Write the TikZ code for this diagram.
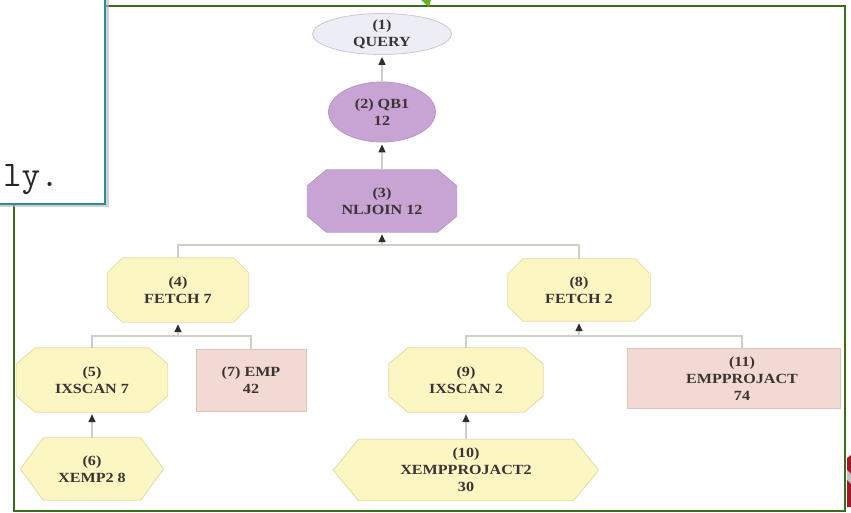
\documentclass[tikz,border=0pt]{standalone}
\usepackage{fontspec}
\usetikzlibrary{shapes.geometric,arrows.meta,calc,backgrounds}
\newfontfamily\lblfont[FakeStretch=1.15]{Liberation Serif}
\definecolor{txt}{HTML}{3B3333}
\definecolor{qfill}{HTML}{EDEDF6}
\definecolor{qborder}{HTML}{C9C9D6}
\definecolor{pfill}{HTML}{C8A4D4}
\definecolor{pborder}{HTML}{B996C4}
\definecolor{yfill}{HTML}{FBF6C2}
\definecolor{yborder}{HTML}{E2DBA6}
\definecolor{rfill}{HTML}{F3D9D3}
\definecolor{rborder}{HTML}{DEC5BE}
\definecolor{linec}{HTML}{CFCFC6}
\definecolor{tipc}{HTML}{2E2E2E}
\definecolor{framec}{HTML}{3D6B1C}
\definecolor{popc}{HTML}{2B8C9C}
\definecolor{greentri}{HTML}{6AB023}
\definecolor{redbit}{HTML}{A0182A}
\tikzset{
  lbl/.style={font=\lblfont\bfseries\fontsize{14}{17}\selectfont, text=txt, align=center, inner sep=0pt},
  qnode/.style={lbl, ellipse, draw=qborder, fill=qfill, line width=0.8pt},
  pnode/.style={lbl, ellipse, draw=pborder, fill=pfill, line width=0.8pt},
  shapebox/.style={lbl, rectangle, draw=none},
  rbox/.style={lbl, rectangle, draw=rborder, fill=rfill, line width=0.8pt},
  conn/.style={draw=linec, line width=1.5pt},
  arr/.style={conn, -{Triangle[width=7pt,length=8pt,color=tipc,fill=tipc]}, shorten >=2pt},
  yshape/.style={fill=yfill, draw=yborder, line width=0.8pt},
  pshape/.style={fill=pfill, draw=pborder, line width=0.8pt},
}
\newcommand\octpath[4]{\draw[#4] ($(#1.north west)+(#2,0)$) -- ($(#1.north east)+(-#2,0)$) -- ($(#1.north east)+(0,#3)$) -- ($(#1.south east)+(0,-#3)$) -- ($(#1.south east)+(-#2,0)$) -- ($(#1.south west)+(#2,0)$) -- ($(#1.south west)+(0,-#3)$) -- ($(#1.north west)+(0,#3)$) -- cycle;}
\newcommand\hexpath[3]{\draw[#3] (#1.west) -- ($(#1.north west)+(#2,0)$) -- ($(#1.north east)+(-#2,0)$) -- (#1.east) -- ($(#1.south east)+(-#2,0)$) -- ($(#1.south west)+(#2,0)$) -- cycle;}
\begin{document}
\begin{tikzpicture}[x=1pt,y=-1pt]
\useasboundingbox (0,0) rectangle (851,513);
\clip (0,0) rectangle (851,513);

% frame
\draw[framec, line width=2.2pt] (14,6) rectangle (845,511);
\fill[greentri] (421,0) -- (431,0) -- (429,7) -- cycle;
\fill[redbit] (847,458) -- (851,455) -- (851,507) -- (847,507) -- cycle;
\fill[black!25] (847,470) -- (851,474) -- (851,484) -- (847,480) -- cycle;

% popup
\fill[black!30, opacity=0.6] (-10,-10) rectangle (108.5,207.5);
\draw[fill=white, draw=popc, line width=1.5pt] (-10,-10) rectangle (105,204);
\node[font=\ttfamily\addfontfeatures{FakeStretch=1.15}\fontsize{36}{36}\selectfont, anchor=base east, text=black!85, inner sep=0pt] (ly) at (59,186) {ly.};

% nodes
\node[qnode, minimum width=139pt, minimum height=37pt] (n1) at (382,34) {(1)\\QUERY};
\node[pnode, minimum width=107pt, minimum height=60pt] (n2) at (382,112) {(2) QB1\\12};
\node[shapebox, minimum width=149pt, minimum height=62pt] (n3) at (382,201) {(3)\\NLJOIN 12};
\node[shapebox, minimum width=141pt, minimum height=64pt] (n4) at (178,290) {(4)\\FETCH 7};
\node[shapebox, minimum width=151pt, minimum height=64pt] (n5) at (92,380) {(5)\\IXSCAN 7};
\node[shapebox, minimum width=143pt, minimum height=62pt] (n6) at (92,469) {(6)\\XEMP2 8};
\node[rbox, minimum width=110pt, minimum height=62pt] (n7) at (251,380) {(7) EMP\\42};
\node[shapebox, minimum width=142pt, minimum height=62pt] (n8) at (579,290) {(8)\\FETCH 2};
\node[shapebox, minimum width=154pt, minimum height=64pt] (n9) at (466,380) {(9)\\IXSCAN 2};
\node[shapebox, minimum width=265pt, minimum height=61pt] (n10) at (466,470) {(10)\\XEMPPROJACT2\\30};
\node[rbox, minimum width=213pt, minimum height=60pt] (n11) at (733.5,378.5) {\hspace*{17pt}(11)\\\hspace*{17pt}EMPPROJACT\\\hspace*{17pt}74};

\begin{scope}[on background layer]
  \octpath{n3}{19}{16}{pshape}
  \octpath{n4}{15}{15}{yshape}
  \octpath{n5}{19}{16}{yshape}
  \octpath{n8}{15}{15}{yshape}
  \octpath{n9}{19}{16}{yshape}
  \hexpath{n6}{23}{yshape}
  \hexpath{n10}{25}{yshape}
\end{scope}

% connectors
\coordinate (j3) at (382,245);
\coordinate (j4) at (178,336);
\coordinate (j8) at (579,336);
\coordinate (t11) at (742,349);
\draw[arr] (n2.north) -- (n1.south);
\draw[arr] (n3.north) -- (n2.south);
\draw[conn] (n4.north) |- (j3) -| (n8.north);
\draw[arr] (j3) -- (n3.south);
\draw[conn] (n5.north) |- (j4) -| (n7.north);
\draw[arr] (j4) -- (n4.south);
\draw[conn] (n9.north) |- (j8) -| (t11);
\draw[arr] (j8) -- (n8.south);
\draw[arr] (n6.north) -- (n5.south);
\draw[arr] (n10.north) -- (n9.south);
\end{tikzpicture}
\end{document}
